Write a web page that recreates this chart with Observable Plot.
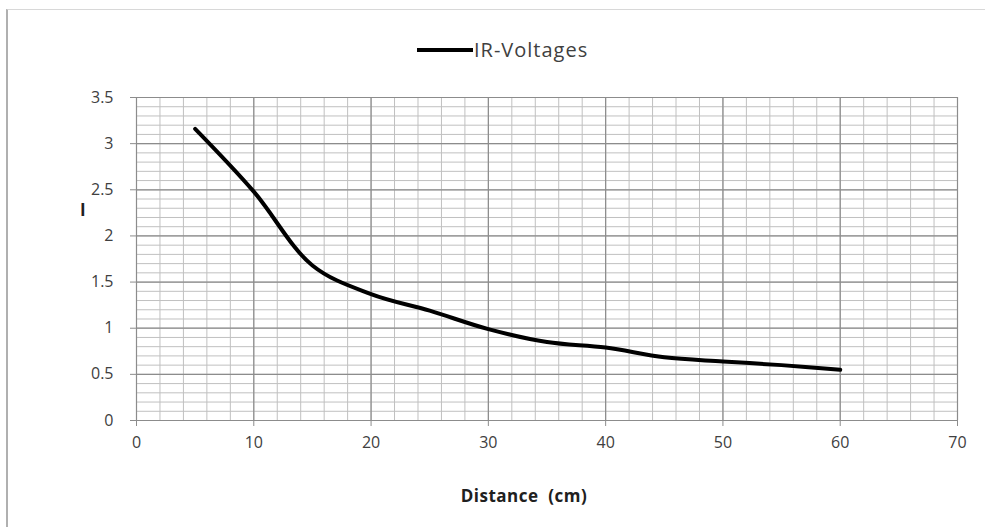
<!DOCTYPE html>
<html>
<head>
<meta charset="utf-8">
<script src="https://cdn.jsdelivr.net/npm/d3@7"></script>
<script src="https://cdn.jsdelivr.net/npm/@observablehq/plot@0.6"></script>
<style>
  html, body { margin: 0; padding: 0; background: #fff; }
  #wrap { position: relative; width: 985px; height: 527px; overflow: hidden; font-family: "Open Sans", sans-serif; }
  #frame { position: absolute; left: 6px; top: 9px; width: 990px; height: 530px; border-left: 2px solid #b0b0b0; border-top: 1px solid #d8d8d8; box-sizing: border-box; }
  #chart { position: absolute; left: 0; top: 0; }
  #legend { position: absolute; top: 36px; left: 417px; display: flex; align-items: center; font-size: 20px; letter-spacing: 1px; color: #404040; }
  #legend .sw { width: 56px; height: 4px; background: #000; margin-right: 1px; }
  #ylab { position: absolute; left: 80px; top: 198px; font-size: 17px; font-weight: bold; color: #202020; }
  #xlab { position: absolute; left: 0; width: 1048px; text-align: center; top: 484px; font-size: 17px; font-weight: bold; letter-spacing: 0.5px; color: #202020; white-space: pre; }
</style>
</head>
<body>
<div id="wrap">
  <div id="frame"></div>
  <div id="chart"></div>
  <div id="legend"><div class="sw"></div><span>IR-Voltages</span></div>
  <div id="ylab">I</div>
  <div id="xlab">Distance  (cm)</div>
</div>
<script>
const distance = [5, 10, 15, 20, 25, 30, 35, 40, 45, 50, 55, 60];
const voltage  = [3.16, 2.48, 1.68, 1.37, 1.19, 0.99, 0.85, 0.79, 0.685, 0.64, 0.60, 0.55];
const xTicks = [0, 10, 20, 30, 40, 50, 60, 70];
const yTicks = [0, 0.5, 1, 1.5, 2, 2.5, 3, 3.5];
const xMinor = d3.range(0, 70.001, 2);
const yMinor = d3.range(0, 35.001, 1).map(v => v / 10);

const data = distance.map((d, i) => ({ d, v: voltage[i] }));

const chart = Plot.plot({
  width: 985,
  height: 527,
  marginLeft: 136,
  marginRight: 28,
  marginTop: 97,
  marginBottom: 107,
  style: { fontFamily: "Open Sans, sans-serif", background: "transparent" },
  x: { domain: [0, 70] },
  y: { domain: [0, 3.5] },
  marks: [
    Plot.ruleX(xMinor, { stroke: "#c0c0c0", strokeWidth: 1, strokeOpacity: 1 }),
    Plot.ruleY(yMinor, { stroke: "#c0c0c0", strokeWidth: 1, strokeOpacity: 1 }),
    Plot.ruleX(xTicks, { stroke: "#8c8c8c", strokeWidth: 1.2 }),
    Plot.ruleY(yTicks, { stroke: "#8c8c8c", strokeWidth: 1.2 }),
    Plot.axisX({ ticks: xTicks, tickSize: 6, tickPadding: 10, fontSize: 16, stroke: "#8c8c8c", color: "#404040", label: null }),
    Plot.axisY({ ticks: yTicks, tickSize: 6, tickPadding: 17, fontSize: 16, stroke: "#8c8c8c", color: "#404040", label: null, tickFormat: d => String(d) }),
    Plot.line(data, { x: "d", y: "v", curve: "catmull-rom", stroke: "#000", strokeWidth: 4, strokeLinecap: "round" })
  ]
});
document.getElementById("chart").appendChild(chart);
</script>
</body>
</html>
